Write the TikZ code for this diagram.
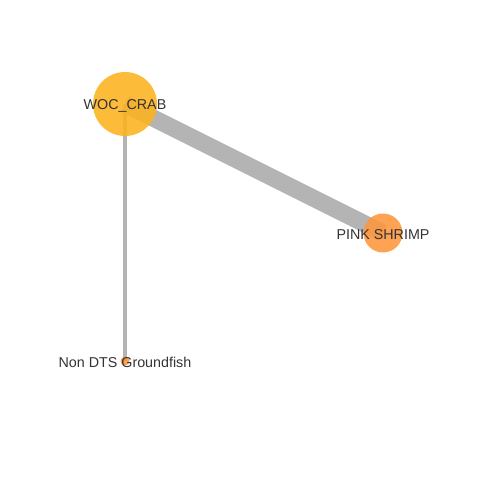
\documentclass[tikz,border=0pt]{standalone}
\usepackage{fontspec}
\setmainfont{Liberation Sans}
\usetikzlibrary{positioning,backgrounds}
\definecolor{crabcol}{RGB}{252,178,30}
\definecolor{shrimpcol}{RGB}{254,150,60}
\definecolor{linkcol}{RGB}{180,180,180}
\definecolor{labelcol}{RGB}{51,51,51}

\begin{document}
\begin{tikzpicture}[x=1pt, y=-1pt, font=\fontsize{14.3}{15}\selectfont]
      \tikzstyle{spec} = [circle, inner sep=0, fill opacity=0.88, text opacity=1]
      \tikzstyle{link} = [draw=linkcol, line cap=butt]
      \tikzstyle{lab}  = [text=labelcol, inner sep=0, yshift=-1.5]

      \useasboundingbox (0,0) rectangle (480,480);

      \node[spec, fill=crabcol,   minimum size=64] (crab)   at (125,104) {};
      \node[spec, fill=shrimpcol, minimum size=39] (shrimp) at (383,233) {};
      \node[spec, fill=shrimpcol, minimum size=9]  (nondts) at (125,361) {};

      \begin{pgfonlayer}{background}
      \draw[link, line width=17] (crab.center) -- (shrimp.center);
      \draw[link, line width=4.5] (crab.center) -- (nondts.center);
      \end{pgfonlayer}

      \node[lab] at (crab)   {WOC\_CRAB};
      \node[lab] at (shrimp) {PINK SHRIMP};
      \node[lab] at (nondts) {Non DTS Groundfish};
    \end{tikzpicture}
\end{document}
